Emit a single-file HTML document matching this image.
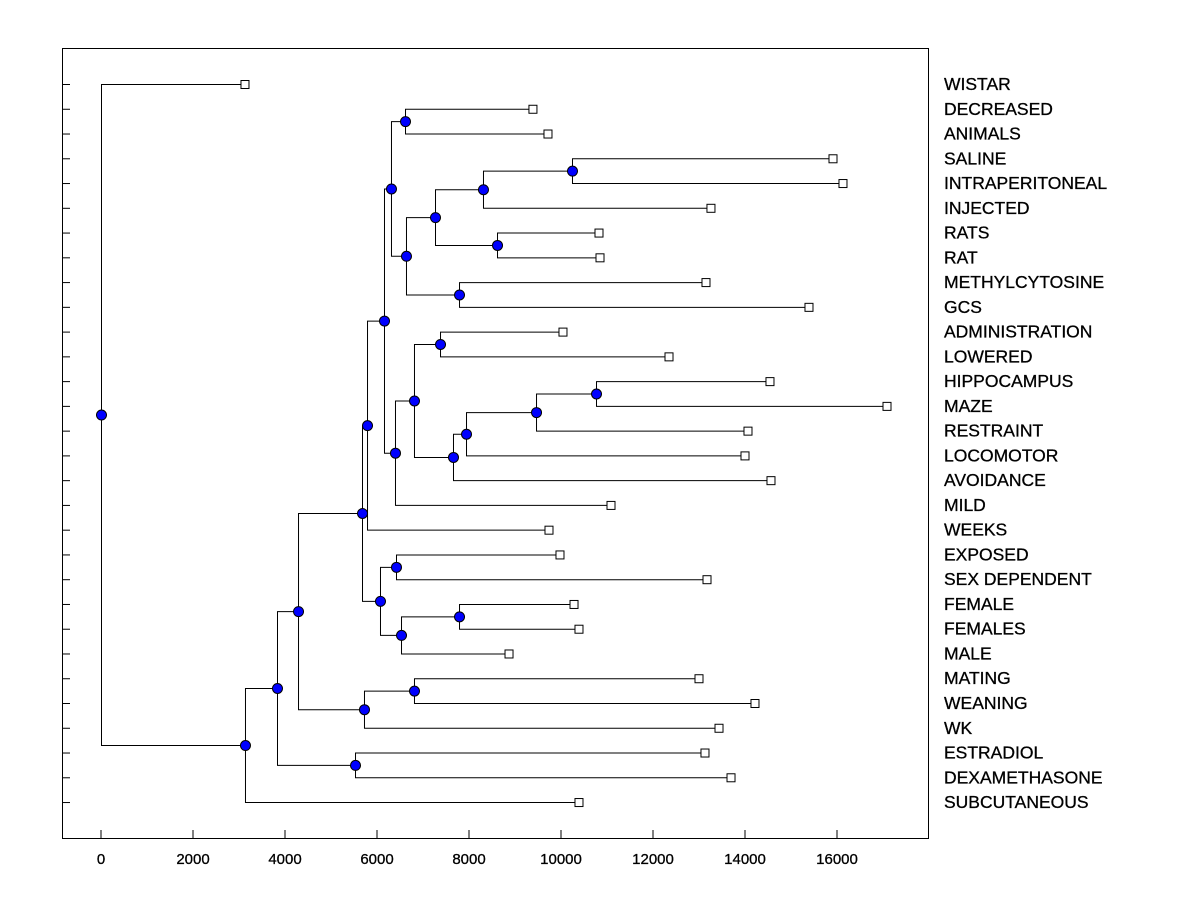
<!DOCTYPE html>
<html><head><meta charset="utf-8"><style>
html,body{margin:0;padding:0;background:#fff;}
svg{display:block;font-family:"Liberation Sans",Arial,sans-serif;}
</style></head><body>
<svg id="chart" width="1200" height="900" viewBox="0 0 1200 900">
<rect x="0" y="0" width="1200" height="900" fill="#fff"/>
<rect x="62.5" y="48.5" width="866" height="790" fill="none" stroke="#000" stroke-width="1"/>
<g id="axis"></g><g id="links"></g><g id="nodes"></g><g id="labels"></g>
</svg>
<script>
const leafNames = ["WISTAR","DECREASED","ANIMALS","SALINE","INTRAPERITONEAL","INJECTED","RATS","RAT","METHYLCYTOSINE","GCS","ADMINISTRATION","LOWERED","HIPPOCAMPUS","MAZE","RESTRAINT","LOCOMOTOR","AVOIDANCE","MILD","WEEKS","EXPOSED","SEX DEPENDENT","FEMALE","FEMALES","MALE","MATING","WEANING","WK","ESTRADIOL","DEXAMETHASONE","SUBCUTANEOUS"];
const leafValues = [3130,9390,9717,15913,16130,13260,10826,10848,13152,15391,10043,12348,14543,17087,14065,14000,14565,11087,9739,9978,13174,10283,10391,8870,13000,14217,13435,13130,13696,10391];
const mergeLeft = [3,30,6,31,8,33,1,36,12,38,39,40,10,42,43,37,45,19,21,48,47,46,24,52,51,27,54,56,0];
const mergeRight = [4,5,7,32,9,34,2,35,13,14,15,16,11,41,17,44,18,20,22,23,49,50,25,26,53,28,55,29,57];
const mergeHeights = [10239,8304,8609,7261,7783,6630,6609,6304,10761,9457,7935,7652,7370,6804,6391,6152,5783,6413,7783,6522,6065,5674,6804,5717,4283,5522,3826,3130,0];
const xTicks = [0,2000,4000,6000,8000,10000,12000,14000,16000];

const NS="http://www.w3.org/2000/svg";
const xs = v => 101 + v*0.046;
const ys = i => 84 + i*24.76;
function mk(parent, tag, attrs){const e=document.createElementNS(NS,tag);for(const k in attrs)e.setAttribute(k,attrs[k]);parent.appendChild(e);return e;}
const axis=document.getElementById('axis'), links=document.getElementById('links'), nodesG=document.getElementById('nodes'), labels=document.getElementById('labels');

xTicks.forEach(t=>{
  const l=mk(axis,'line',{x1:xs(t),x2:xs(t),y1:830,y2:838,stroke:'#000'});
  
  
  const tx=mk(axis,'text',{x:xs(t),y:864,'text-anchor':'middle','font-size':15,'stroke':'#000','stroke-width':0.3});
  tx.textContent=t;
  
  
});
leafNames.forEach((n,i)=>{
  const l=mk(axis,'line',{x1:62,x2:70,y1:ys(i)+0.5,y2:ys(i)+0.5,stroke:'#000'});
  
  
});

const nx=[], ny=[];
leafNames.forEach((n,i)=>{nx[i]=xs(leafValues[i]); ny[i]=ys(i);});
mergeHeights.forEach((h,k)=>{
  const id=leafNames.length+k, a=mergeLeft[k], b=mergeRight[k];
  const px=xs(h);
  nx[id]=px; ny[id]=(ny[a]+ny[b])/2;
  const p=mk(links,'path',{d:`M${nx[a]},${ny[a]+0.5}H${px+0.5}V${ny[b]+0.5}H${nx[b]}`,fill:'none',stroke:'#000','stroke-width':1});
  
  
  const c=mk(nodesG,'circle',{cx:px+0.5,cy:ny[id]+0.5,r:5,fill:'#0000ff',stroke:'#000','stroke-width':1});
  
  
});
leafNames.forEach((n,i)=>{
  const r=mk(nodesG,'rect',{x:nx[i]-4,y:ny[i]-3.5,width:8,height:8,fill:'#fff',stroke:'#000'});
  
  
  const t=mk(labels,'text',{x:944,y:ny[i]+6,'font-size':17.5,'stroke':'#000','stroke-width':0.3});
  t.textContent=n;
  
  
});
</script>
</body></html>
